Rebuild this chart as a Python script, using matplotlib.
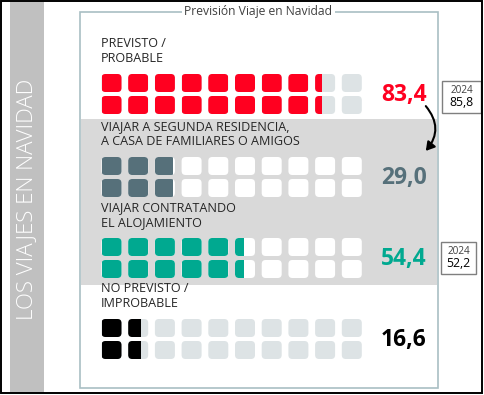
import matplotlib
matplotlib.use("Agg")
import matplotlib.pyplot as plt
from matplotlib.patches import FancyBboxPatch, Rectangle, FancyArrowPatch
import numpy as np

# ---- data ----
categories = [["PREVISTO /", "PROBABLE"],
              ["VIAJAR A SEGUNDA RESIDENCIA,", "A CASA DE FAMILIARES O AMIGOS"],
              ["VIAJAR CONTRATANDO", "EL ALOJAMIENTO"],
              ["NO PREVISTO /", "IMPROBABLE"]]
values = [83.4, 29.0, 54.4, 16.6]
value_labels = ["83,4", "29,0", "54,4", "16,6"]
prev_year = "2024"
prev_labels = ["85,8", None, "52,2", None]
title = "Previsión Viaje en Navidad"
side_title = "LOS VIAJES EN NAVIDAD"

fill_colors = ["#ff0020", "#56707a", "#00a990", "#000000"]
shaded_rows = [False, True, True, False]

FONT = "Open Sans"
W, H = 484, 395
fig = plt.figure(figsize=(W / 100, H / 100), dpi=100)
ax = fig.add_axes([0, 0, 1, 1])
ax.set_xlim(0, W)
ax.set_ylim(H, 0)
ax.axis("off")

# outer border
ax.add_patch(Rectangle((0.8, 0.8), W - 2.6, H - 2.6, fill=False, ec="black", lw=1.4, zorder=10))
# left band
ax.add_patch(Rectangle((10, 1), 33.5, H - 3, fc="#c0c0c0", ec="none", zorder=1))
ax.text(27, 199, side_title, rotation=90, ha="center", va="center", color="white",
        fontsize=16, family=FONT, fontweight="light", zorder=2)

# panel
px0, px1, py0, py1 = 80, 438, 12, 388
ax.add_patch(Rectangle((px0, py0), px1 - px0, py1 - py0, fill=False, ec="#a9bfc4", lw=1.2, zorder=3))
ax.text(258.5, 12, title, ha="center", va="center", fontsize=8.7, family=FONT, color="#404040",
        zorder=4, bbox=dict(fc="white", ec="none", pad=1.5))

# gray band behind rows 2-3
ax.add_patch(Rectangle((px0 + 0.6, 119), px1 - px0 - 1.2, 166, fc="#d9d9d9", ec="none", zorder=1))

x_start, pitch_x, sq_w = 101.5, 26.7, 20
sq_h, pitch_y = 18, 22
row_tops = [74, 157, 238, 319]

for r, (lab, val, vlab, col, shaded) in enumerate(zip(categories, values, value_labels, fill_colors, shaded_rows)):
    top = row_tops[r]
    ax.text(x_start - 0.5, top - 30.5, lab[0], ha="left", va="center", fontsize=9.1, family=FONT,
            color="#262626", zorder=5)
    ax.text(x_start - 0.5, top - 15.5, lab[1], ha="left", va="center", fontsize=9.1, family=FONT,
            color="#262626", zorder=5)
    empty = "white" if shaded else "#dde3e5"
    for j in range(2):
        y = top + j * pitch_y
        for i in range(10):
            x = x_start + i * pitch_x
            frac = float(np.clip(val / 10 - i, 0, 1))
            bg = FancyBboxPatch((x, y), sq_w, sq_h, boxstyle="round,pad=0,rounding_size=4",
                                fc=empty, ec="none", zorder=4)
            ax.add_patch(bg)
            if frac > 0:
                fg = FancyBboxPatch((x, y), sq_w, sq_h, boxstyle="round,pad=0,rounding_size=4",
                                    fc=col, ec="none", zorder=5)
                ax.add_patch(fg)
                clip = Rectangle((x, y - 1), sq_w * frac, sq_h + 2, transform=ax.transData)
                fg.set_clip_path(clip)
    ax.text(426.5, top + 21, vlab, ha="right", va="center", fontsize=16.5, family=FONT,
            fontweight="bold", color=col, zorder=6)

# previous-year boxes
for r, pl in enumerate(prev_labels):
    if pl is None:
        continue
    top = row_tops[r]
    bx0 = 442 if r == 0 else 441
    bw = 39 if r == 0 else 35
    by0 = top + 7 if r == 0 else top + 4
    ax.add_patch(Rectangle((bx0, by0), bw, 32, fill=True, fc="white", ec="#7f7f7f", lw=1.0, zorder=6))
    ax.text(bx0 + bw / 2, by0 + 9.5, prev_year, ha="center", va="center", fontsize=7.2, family=FONT,
            color="#404040", zorder=7)
    ax.text(bx0 + bw / 2, by0 + 21.5, pl, ha="center", va="center", fontsize=8.8, family=FONT,
            color="black", zorder=7)

# curved arrow
arr = FancyArrowPatch((424, 104), (424, 153), connectionstyle="arc3,rad=-0.45",
                      arrowstyle="-|>,head_length=5,head_width=3", lw=1.5, color="black", zorder=8)
ax.add_patch(arr)

fig.savefig("out.png", dpi=100)
